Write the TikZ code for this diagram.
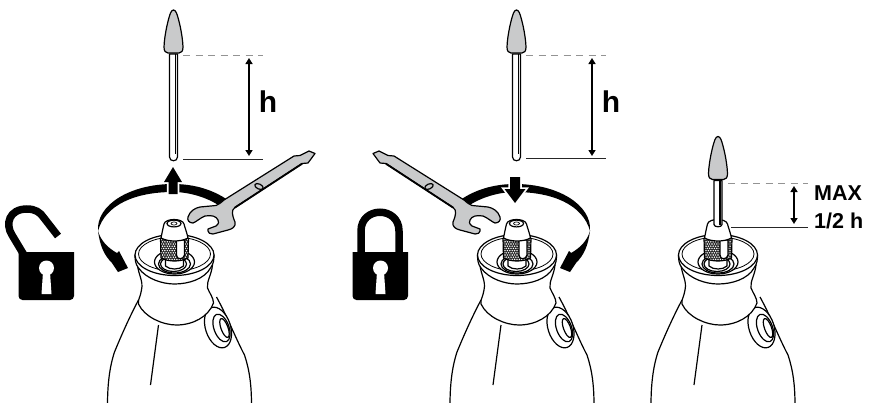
\documentclass[tikz,border=0pt]{standalone}
\usepackage{fontspec}
\setmainfont{Liberation Sans}
\usetikzlibrary{arrows.meta}
\definecolor{wgrey}{HTML}{C9CACB}
\tikzset{
 ln/.style={line width=1.2pt,black,line join=round},
 dim/.style={line width=2.4pt,{Stealth[length=6pt,width=7pt,inset=0pt]}-{Stealth[length=6pt,width=7pt,inset=0pt]}},
 dashline/.style={line width=.9pt,gray!85,dash pattern=on 7pt off 5.5pt},
 solidline/.style={line width=.9pt,black!85},
 solidarrow/.style={fill=black,preaction={draw=white,line width=3.5pt}},
 lab/.style={font=\bfseries,inner sep=0pt},
 machine/.pic={
  % body
  \draw[ln] (-36,45) .. controls (-45,62) and (-53,80) .. (-60,97) .. controls (-65,112) and (-67,130) .. (-67,150);
  \draw[ln] (42,42) .. controls (52,60) and (62,85) .. (70,100) .. controls (75,115) and (77,130) .. (77,150);
  \draw[ln] (-16,70) -- (-24,130);
  % switch
  \draw[ln,fill=white,rotate around={18:(43.5,72.5)}] (43.5,72.5) ellipse [x radius=12.5,y radius=21];
  \draw[ln,fill=white,rotate around={20:(47,73)}] (47,73) ellipse [x radius=7.5,y radius=14.5];
  \draw[ln,fill=white,rotate around={20:(50,73)}] (50,73) ellipse [x radius=3.5,y radius=10];
  % neck
  \draw[ln,fill=white] (-37,10) .. controls (-36,20) and (-31,26) .. (-33,35)
    .. controls (-34,42) and (-37,45) .. (-36,49) .. controls (-30,62) and (-12,70) .. (2,70)
    .. controls (18,70) and (34,62) .. (39,48) .. controls (39,43) and (35,38) .. (33,33)
    .. controls (32,26) and (37,20) .. (38,10) -- cycle;
  % collar
  \draw[ln,fill=white] (-39.5,0) .. controls (-39.5,5) and (-39,9) .. (-36,13)
     .. controls (-28,24) and (-12,29) .. (0,29) .. controls (14,29) and (30,24) .. (36,13)
     .. controls (39,9) and (39.5,5) .. (39.5,0) -- cycle;
  \draw[ln,fill=white] (0,0) ellipse [x radius=39.5,y radius=20.5];
  \draw[ln,line width=.8pt] (0,-1) ellipse [x radius=36,y radius=17];
  % rings
  \draw[ln,fill=white] (0,7) ellipse [x radius=20,y radius=12];
  \draw[ln] (0,9) ellipse [x radius=16,y radius=9];
  \draw[ln] (-1,9) ellipse [x radius=13,y radius=7.5];
  % spindle
  \draw[ln,fill=white] (-9,0) -- (-9,11) .. controls (-5,15) and (5,15) .. (9,11) -- (9,0) -- cycle;
  % knurl
  \begin{scope}
   \clip (-14,-17) -- (14,-17) -- (13.5,3) .. controls (6,7) and (-6,7) .. (-13.5,3) -- cycle;
   \fill[black!85] (-15,-18) rectangle (15,8);
   \foreach \i in {-6,...,6} \foreach \j in {-8,...,5}
     {\fill[white] ({\i*2.4+mod(\j+8,2)*1.2},{\j*2.2}) circle (.8);}
  \end{scope}
  \draw[ln] (-14,-17) -- (-13.5,3) .. controls (-6,7) and (6,7) .. (13.5,3) -- (14,-17);
  \draw[ln,fill=white] (2,-15) -- (2,0) .. controls (2,5) and (9,5) .. (10,0) -- (10,-15) -- cycle;
  % cone
  \draw[ln,fill=white] (-13.5,-17) .. controls (-12.5,-22) and (-11.5,-27) .. (-10.5,-31)
    .. controls (-9,-37) and (8,-37) .. (9.5,-31) .. controls (10.5,-27) and (12.5,-22) .. (13.5,-17)
    .. controls (6,-13) and (-6,-13) .. (-13.5,-17) -- cycle;
 },
 nuttop/.pic={
  \draw[ln] (0,-31.5) ellipse [x radius=7,y radius=3.4];
  \draw[ln,line width=.7pt] (0,-31.5) ellipse [x radius=3,y radius=1.6];
 },
 bithead/.pic={
  \draw[ln,fill=wgrey] (-5.5,-1) .. controls (-8,-1) and (-9.5,-3) .. (-9.5,-7)
     .. controls (-9,-20) and (-5,-36) .. (-3,-41) .. controls (-1.5,-45) and (1.5,-45) .. (3,-41)
     .. controls (5,-36) and (9,-20) .. (9.5,-7) .. controls (9.5,-3) and (8,-1) .. (5.5,-1) -- cycle;
 },
 bit/.pic={
  \draw[ln,fill=white] (-4,0) -- (-4,103) .. controls (-4,108) and (4,108) .. (4,103) -- (4,0) -- cycle;
  \draw[line width=1.4pt] (1.8,0) -- (1.8,100);
  \pic {bithead};
 },
 shortbit/.pic={
  \draw[ln,fill=white] (-4,0) -- (-4,44) .. controls (-4,47) and (4,47) .. (4,44) -- (4,0) -- cycle;
  \draw[line width=1.4pt] (1.8,0) -- (1.8,44);
  \pic {bithead};
 },
 wrench/.pic={
  \draw[ln,fill=wgrey] (224,200) -- (294,156) -- (300,155.5) -- (309,151) -- (315,153.5) -- (308,163) -- (302,163.5) -- (235,207.5)
    .. controls (231,210) and (232,215) .. (235,222)
    .. controls (236,227) and (232,229) .. (228,230) -- (213,234) .. controls (210,234) and (208,233) .. (208,231)
    -- (208,229) -- (216,226) .. controls (219,224) and (219,221) .. (218,220)
    .. controls (216,216) and (212,215) .. (205,216) .. controls (200,218) and (196,222) .. (193,223)
    .. controls (189,223) and (187,220) .. (188,217) .. controls (190,211) and (195,208) .. (200,207)
    -- (216,205.5) .. controls (219,204.5) and (221,202.5) .. (224,200) -- cycle;
  \draw[line width=1.8pt,line cap=round] (302,163.8) -- (235,207.5);
  \draw[ln,fill=wgrey,rotate around={-25:(259,186.5)}] (259,186.5) ellipse [x radius=4.5,y radius=2.5];
 },
 band/.pic={
  \fill (98,231) .. controls (96,205) and (130,184) .. (173,184) .. controls (195,184) and (215,190) .. (232,203)
     -- (224,209) .. controls (210,198) and (190,192) .. (173,192) .. controls (135,192) and (105,205) .. (98,231) -- cycle;
  \fill (98,231) .. controls (100,246) and (104,255) .. (112,263) -- (118,272) -- (128,268) -- (119,251) -- (117,253)
     .. controls (108,248) and (101,241) .. (98,231) -- cycle;
 },
 lockbody/.pic={
  \fill (0,0) -- (55.5,0) [rounded corners=4pt] -- (55.5,48) -- (0,48) [sharp corners] -- (0,0) -- cycle;
  \fill[white] (28,16) circle (7.5);
  \fill[white] (24.5,20) -- (23,42) -- (33,42) -- (31.5,20) -- cycle;
 },
}
\begin{document}
\begin{tikzpicture}[x=1pt,y=-1pt]
\useasboundingbox (0,0) rectangle (870,402);
\begin{scope}
\clip (0,0) rectangle (870,402);
\pic at (174.5,255) {machine};
\pic at (174,255) {nuttop};
\pic at (517,255) {machine};
\pic at (516.5,255) {nuttop};
\pic at (718,255) {machine};
\end{scope}
\pic at (173.5,54) {bit};
\pic at (516.5,54) {bit};
\pic at (718,180.5) {shortbit};
\pic at (0,0) {band};
\pic[xscale=-1] at (688,0) {band};
\path[solidarrow] (168.5,194) -- (168.5,182) -- (164,182) -- (173,167) -- (182,182) -- (177.5,182) -- (177.5,194) -- cycle;
\path[solidarrow] (510,177) -- (520,177) -- (520,189) -- (525.5,189) -- (515,203) -- (504.5,189) -- (510,189) -- cycle;
\pic at (0,0) {wrench};
\pic[xscale=-1] at (688,0) {wrench};
\pic at (18.5,252) {lockbody};
\draw[line width=7.5pt] (24,255) -- (12,235) .. controls (5,224) and (9,209) .. (27,209) .. controls (35,209) and (40,212) .. (44,218) -- (58,236);
\pic at (352.5,252) {lockbody};
\draw[line width=7.5pt] (361,256) -- (361,231) .. controls (361,206) and (399,206) .. (399,231) -- (399,256);
\coordinate (a1) at (183,55.5); \coordinate (a2) at (263,55.5);
\coordinate (b1) at (183,159); \coordinate (b2) at (263,159);
\coordinate (c1) at (526,55.5); \coordinate (c2) at (606,55.5);
\coordinate (d1) at (526,158.5); \coordinate (d2) at (606,158.5);
\coordinate (e1) at (728,183); \coordinate (e2) at (808,183);
\coordinate (f1) at (731,227.5); \coordinate (f2) at (808,227.5);
\draw[dashline] (a1) -- (a2); \draw[solidline] (b1) -- (b2);
\draw[dashline] (c1) -- (c2); \draw[solidline] (d1) -- (d2);
\draw[dashline] (e1) -- (e2); \draw[solidline] (f1) -- (f2);
\coordinate (u1) at (249,58); \coordinate (u2) at (249,156);
\coordinate (v1) at (592,58); \coordinate (v2) at (592,156);
\coordinate (w1) at (794,186); \coordinate (w2) at (794,224);
\draw[dim] (u1) -- (u2); \draw[dim] (v1) -- (v2); \draw[dim] (w1) -- (w2);
\node[lab,font=\fontsize{30}{30}\bfseries\selectfont] (h1) at (268,102) {h};
\node[lab,font=\fontsize{30}{30}\bfseries\selectfont] (h2) at (611,102) {h};
\node[lab,anchor=west,font=\fontsize{21.5}{22}\bfseries\selectfont] (mx) at (814,193) {MAX};
\node[lab,anchor=west,font=\fontsize{21.5}{22}\bfseries\selectfont] (hf) at (814,221) {1/2 h};
\end{tikzpicture}
\end{document}
